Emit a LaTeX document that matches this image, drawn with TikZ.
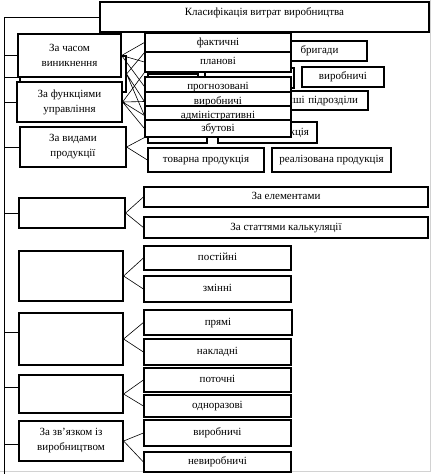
\documentclass[tikz,border=0pt]{standalone}
\usepackage{fontspec}
\setmainfont{Liberation Serif}
\usepackage{tikz}

\begin{document}
\begin{tikzpicture}[x=1pt,y=-1pt,
		box/.style={draw,fill=white,line width=1.2pt,inner sep=2pt,font=\fontsize{11}{15}\selectfont},
		one/.style={box,text height=7.5pt,text depth=2.5pt},
		two/.style={box,align=center},
		wire/.style={line width=0.6pt}]
		\useasboundingbox (0,0) rectangle (432,474);
		\draw[gray!35] (0,471.5) -- (430.5,471.5) -- (430.5,0);
		\node[one,minimum width=329pt,minimum height=30pt,text height=10pt,text depth=13pt] (title) at (264.5,17) {Класифікація витрат виробництва};
		\node[one,minimum width=95pt,minimum height=20pt] (brig) at (319.5,51) {бригади};
		\node[box,minimum width=50pt,minimum height=21pt] (ceh) at (173,84.5) {};
		\node[box,minimum width=89pt,minimum height=20pt] (dil) at (249.5,78) {};
		\node[one,minimum width=82pt,minimum height=20pt] (vyrp) at (343,77) {виробничі};
		\node[one,minimum height=19pt,text width=98pt,align=right,inner xsep=10pt] (insh) at (309,100.5) {інші підрозділи};
		\node[box,minimum width=59pt,minimum height=23pt] (ekr) at (177.5,131.5) {};
		\node[one,minimum height=21pt,text width=83pt,align=right,inner xsep=8pt] (val) at (267.5,132.5) {валова продукція};
		\node[one,minimum width=116pt,minimum height=24pt] (tov) at (206,160) {товарна продукція};
		\node[one,minimum width=119pt,minimum height=24pt] (real) at (331.5,160) {реалізована продукція};
		\node[one,minimum width=146pt,minimum height=19pt] (fakt) at (218,42.5) {фактичні};
		\node[one,minimum width=146pt,minimum height=20pt] (plan) at (218,62) {планові};
		\node[one,minimum width=146pt,minimum height=19pt] (prog) at (218,86.5) {прогнозовані};
		\node[one,minimum width=146pt,minimum height=19pt] (viro) at (218,101.5) {виробничі};
		\node[one,minimum width=146pt,minimum height=19pt] (adm) at (218,115.5) {адміністративні};
		\node[one,minimum width=146pt,minimum height=17pt] (zbut) at (218,128.5) {збутові};
		\node[box,minimum width=106pt,minimum height=36pt] (mis) at (73,74) {};
		\node[two,minimum width=103pt,minimum height=43pt] (chas) at (69.5,55.5) {За часом\\виникнення};
		\node[two,minimum width=105pt,minimum height=40pt] (func) at (69.5,102) {За функціями\\управління};
		\node[two,minimum width=106pt,minimum height=40pt] (vyd) at (73,147) {За видами\\продукції};
		\node[box,minimum width=106pt,minimum height=30pt] (elm) at (72,213) {};
		\node[one,minimum width=284pt,minimum height=20pt] (elem) at (286,197) {За елементами};
		\node[one,minimum width=284pt,minimum height=21pt] (stat) at (286,227.5) {За статтями калькуляції};
		\node[box,minimum width=104pt,minimum height=50pt] (obs) at (71,276) {};
		\node[one,minimum width=147pt,minimum height=24pt] (post) at (217.5,258) {постійні};
		\node[one,minimum width=147pt,minimum height=26pt] (zmin) at (217.5,289) {змінні};
		\node[box,minimum width=104pt,minimum height=52pt] (spos) at (71,339) {};
		\node[one,minimum width=148pt,minimum height=25pt] (pram) at (218,322.5) {прямі};
		\node[one,minimum width=147pt,minimum height=26pt] (nakl) at (217.5,352) {накладні};
		\node[box,minimum width=104pt,minimum height=38pt] (per) at (71,394) {};
		\node[one,minimum width=147pt,minimum height=24pt] (poto) at (217.5,380) {поточні};
		\node[one,minimum width=147pt,minimum height=22pt] (odno) at (217.5,406) {одноразові};
		\node[two,minimum width=104pt,minimum height=40pt] (zvj) at (71,441) {За зв’язком із\\виробництвом};
		\node[one,minimum width=147pt,minimum height=26pt] (vyrb) at (217.5,433) {виробничі};
		\node[one,minimum width=147pt,minimum height=20pt] (nevy) at (217.5,462) {невиробничі};
		\coordinate (trunk) at (4,17);
		\coordinate (trunkend) at (4,474);
		\draw[wire] (trunk) -- (trunkend);
		\draw[wire] (trunk) -- (title.west);
		\foreach \b in {chas,func,vyd,elm}
			\draw[wire] (\b.west -| trunk) -- (\b.west);
		\draw[wire] ([yshift=-3pt]mis.west -| trunk) -- ([yshift=-3pt]mis.west);
		\draw[wire] ([yshift=7pt]spos.west -| trunk) -- ([yshift=7pt]spos.west);
		\draw[wire] ([yshift=7pt]per.west -| trunk) -- ([yshift=7pt]per.west);
		\draw[wire] ([yshift=-3pt]zvj.west -| trunk) -- ([yshift=-3pt]zvj.west);
		\draw[wire] (chas.east) -- (fakt.west) (chas.east) -- (plan.west) (chas.east) -- (prog.west);
		\draw[wire] (mis.east) -- (fakt.south west) (mis.east) -- (viro.west) (mis.east) -- (adm.west);
		\draw[wire] (func.east) -- (plan.south west) (func.east) -- (viro.west) (func.east) -- (adm.west) (func.east) -- (zbut.west);
		\draw[wire] (vyd.east) -- (zbut.south west) (vyd.east) -- (tov.west);
		\foreach \a/\b/\c in {elm/elem/stat,obs/post/zmin,spos/pram/nakl,per/poto/odno,zvj/vyrb/nevy}
			\draw[wire] (\a.east) -- (\b.west) (\a.east) -- (\c.west);
\end{tikzpicture}
\end{document}
